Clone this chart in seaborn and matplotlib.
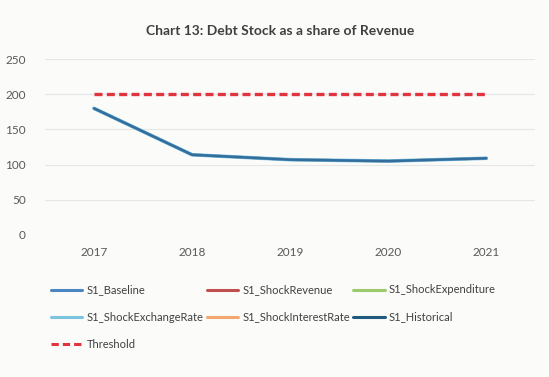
import matplotlib
matplotlib.use("Agg")
import matplotlib.pyplot as plt
import seaborn as sns
import pandas as pd
from matplotlib.lines import Line2D

# Chart data
years = [2017, 2018, 2019, 2020, 2021]
s1_baseline = [180, 114, 107, 105, 109]
s1_shock_revenue = [180, 114, 107, 105, 109]
s1_shock_expenditure = [180, 114, 107, 105, 109]
s1_shock_exchange_rate = [180, 114, 107, 105, 109]
s1_shock_interest_rate = [180, 114, 107, 105, 109]
s1_historical = [180, 114, 107, 105, 109]
threshold = [200, 200, 200, 200, 200]

series_names = ["S1_Baseline", "S1_ShockRevenue", "S1_ShockExpenditure",
                "S1_ShockExchangeRate", "S1_ShockInterestRate", "S1_Historical",
                "Threshold"]
series_values = [s1_baseline, s1_shock_revenue, s1_shock_expenditure,
                 s1_shock_exchange_rate, s1_shock_interest_rate, s1_historical,
                 threshold]

colors = {
    "S1_Baseline": "#4A86C0",
    "S1_ShockRevenue": "#C0504D",
    "S1_ShockExpenditure": "#9BCB6A",
    "S1_ShockExchangeRate": "#7CC3E0",
    "S1_ShockInterestRate": "#F4A870",
    "S1_Historical": "#1F5A7E",
    "Threshold": "#E0343E",
}
widths = {
    "S1_Baseline": 1.9,
    "S1_ShockRevenue": 1.9,
    "S1_ShockExpenditure": 1.9,
    "S1_ShockExchangeRate": 2.6,
    "S1_ShockInterestRate": 1.9,
    "S1_Historical": 1.6,
    "Threshold": 2.4,
}

df = pd.DataFrame({
    "year": [y for _ in series_names for y in years],
    "value": [v for vals in series_values for v in vals],
    "series": [n for n in series_names for _ in years],
})

sns.set_theme(style="white")
plt.rcParams["font.family"] = ["Lato", "DejaVu Sans"]

fig = plt.figure(figsize=(5.49, 3.77), dpi=100)
fig.patch.set_facecolor("#FBFBFA")
ax = fig.add_axes([0.082, 0.377, 0.893, 0.466])
ax.set_facecolor("#FBFBFA")

# draw order so the blended blue line sits on top of the hidden ones
draw_order = ["S1_ShockRevenue", "S1_ShockExpenditure", "S1_ShockInterestRate",
              "S1_ShockExchangeRate", "S1_Baseline", "S1_Historical", "Threshold"]
for name in draw_order:
    sub = df[df["series"] == name]
    alpha = 0.55 if name == "S1_Historical" else 1.0
    sns.lineplot(data=sub, x="year", y="value", ax=ax, color=colors[name],
                 linewidth=widths[name], alpha=alpha,
                 linestyle=(0, (2.4, 1.3)) if name == "Threshold" else "-",
                 legend=False)

ax.set_xlim(2016.5, 2021.5)
ax.set_ylim(0, 250)
ax.set_yticks([0, 50, 100, 150, 200, 250])
ax.set_xticks(years)
ax.set_xticklabels([str(y) for y in years])
ax.yaxis.grid(True, color="#E6E6E6", linewidth=0.8)
ax.xaxis.grid(False)
for sp in ax.spines.values():
    sp.set_visible(False)
ax.tick_params(axis="both", length=0, labelsize=8.5, colors="#595959")
ax.tick_params(axis="x", pad=9)
ax.tick_params(axis="y", pad=14)
ax.set_xlabel("")
ax.set_ylabel("")

fig.text(0.51, 0.918, "Chart 13: Debt Stock as a share of Revenue",
         ha="center", va="center", fontsize=10, fontweight="bold", color="#404040")

# legend laid out row by row (matplotlib fills columns first)
legend_order = ["S1_Baseline", "S1_ShockExchangeRate", "Threshold",
                "S1_ShockRevenue", "S1_ShockInterestRate",
                "S1_ShockExpenditure", "S1_Historical"]
handles = [Line2D([0], [0], color=colors[n], linewidth=2.2,
                  linestyle=(0, (2.4, 1.3)) if n == "Threshold" else "-")
           for n in legend_order]
fig.legend(handles, legend_order, loc="upper left", bbox_to_anchor=(0.075, 0.272),
           ncol=3, frameon=False, fontsize=8, labelcolor="#404040",
           handlelength=2.8, handletextpad=0.4, columnspacing=0.3,
           labelspacing=1.45)

fig.savefig("out.png", dpi=100, facecolor=fig.get_facecolor())
